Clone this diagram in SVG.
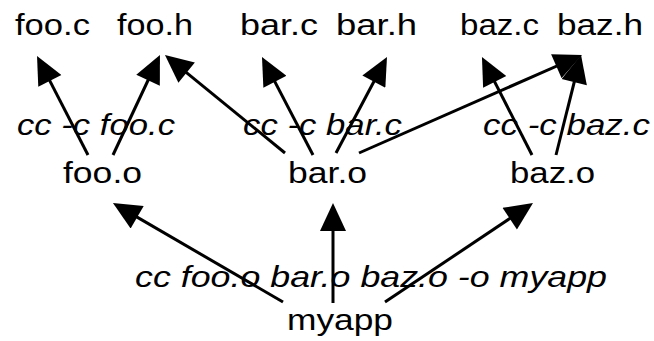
<svg xmlns="http://www.w3.org/2000/svg" width="654" height="341" viewBox="0 0 654 341">
<style>
  text { font-family: "Liberation Sans", Arial, sans-serif; font-size: 29px; fill: #000; }
  .cmd { font-style: italic; }
  .edge { stroke: #000; stroke-width: 3; fill: none; marker-end: url(#ah); }
</style>
<defs>
  <marker id="ah" markerUnits="userSpaceOnUse" markerWidth="30" markerHeight="26" viewBox="0 0 28 26" refX="18" refY="13" orient="auto">
    <path d="M0,0 L28,13 L0,26 z" fill="#000"/>
  </marker>
</defs>
<rect width="654" height="341" fill="#fff"/>
<g id="connectors">
  <line class="edge" x1="88" y1="155" x2="41.6" y2="64.9"/>
  <line class="edge" x1="113" y1="155" x2="155.7" y2="64.0"/>
  <line class="edge" x1="285" y1="153" x2="172.7" y2="61.3"/>
  <line class="edge" x1="313" y1="155" x2="266.6" y2="65.9"/>
  <line class="edge" x1="336" y1="153" x2="382.3" y2="65.8"/>
  <line class="edge" x1="359" y1="153" x2="572.8" y2="59.0"/>
  <line class="edge" x1="532" y1="155" x2="486.5" y2="65.9"/>
  <line class="edge" x1="556" y1="155" x2="578.6" y2="64.7"/>
  <line class="edge" x1="283" y1="302" x2="121.6" y2="208.1"/>
  <line class="edge" x1="333" y1="303" x2="333" y2="213"/>
  <line class="edge" x1="385" y1="302" x2="524.7" y2="208.6"/>
</g>
<g id="labels">
  <text class="cmd" x="17" y="135" textLength="158" lengthAdjust="spacingAndGlyphs">cc -c foo.c</text>
  <text class="cmd" x="243" y="135" textLength="159" lengthAdjust="spacingAndGlyphs">cc -c bar.c</text>
  <text class="cmd" x="483" y="135" textLength="167" lengthAdjust="spacingAndGlyphs">cc -c baz.c</text>
  <text class="cmd" x="135" y="287" textLength="472" lengthAdjust="spacingAndGlyphs">cc foo.o bar.o baz.o -o myapp</text>
</g>
<g id="foo.c"><text x="15" y="35" textLength="75" lengthAdjust="spacingAndGlyphs">foo.c</text></g>
<g id="foo.h"><text x="117" y="35" textLength="76" lengthAdjust="spacingAndGlyphs">foo.h</text></g>
<g id="bar.c"><text x="240" y="35" textLength="78" lengthAdjust="spacingAndGlyphs">bar.c</text></g>
<g id="bar.h"><text x="336" y="35" textLength="81" lengthAdjust="spacingAndGlyphs">bar.h</text></g>
<g id="baz.c"><text x="460" y="35" textLength="79" lengthAdjust="spacingAndGlyphs">baz.c</text></g>
<g id="baz.h"><text x="557" y="35" textLength="86" lengthAdjust="spacingAndGlyphs">baz.h</text></g>
<g id="foo.o"><text x="63" y="183" textLength="79" lengthAdjust="spacingAndGlyphs">foo.o</text></g>
<g id="bar.o"><text x="288" y="183" textLength="79" lengthAdjust="spacingAndGlyphs">bar.o</text></g>
<g id="baz.o"><text x="510" y="183" textLength="85" lengthAdjust="spacingAndGlyphs">baz.o</text></g>
<g id="myapp"><text x="287" y="330" textLength="106" lengthAdjust="spacingAndGlyphs">myapp</text></g>
</svg>
